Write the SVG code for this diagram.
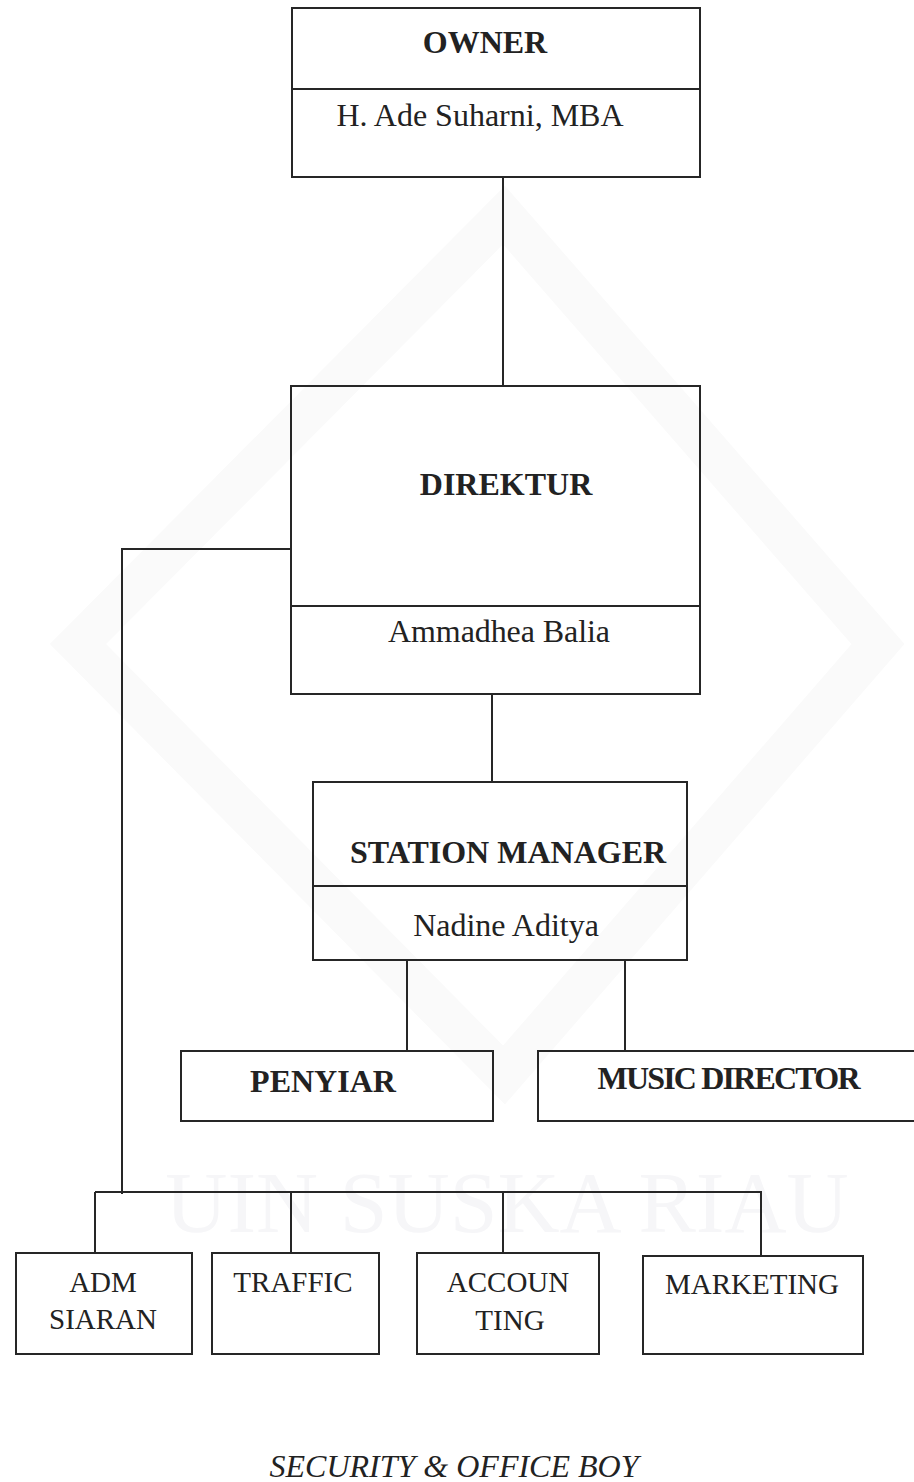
<svg xmlns="http://www.w3.org/2000/svg" width="914" height="1482" viewBox="0 0 914 1482">
<style>
.box{fill:none;stroke:#262626;stroke-width:2}
.ln{fill:none;stroke:#262626;stroke-width:2}
text{font-family:"Liberation Serif","Times New Roman",serif;fill:#222;text-anchor:middle}
.b{font-weight:bold;font-size:32px}
.r{font-size:32px}
.s{font-size:29px}
.wm{fill:none;stroke:#fafafa;stroke-width:40}
</style>
<rect x="0" y="0" width="914" height="1482" fill="#ffffff"/>
<g id="watermark">
<polygon class="wm" points="504,215 78,644 504,1075 878,644"/>
<text x="507" y="1232" font-size="86" style="fill:#f6f6f8">UIN SUSKA RIAU</text>
</g>
<g id="connectors">
<line class="ln" x1="503" y1="177" x2="503" y2="386"/>
<polyline class="ln" points="291,549 122,549 122,1194"/>
<line class="ln" x1="492" y1="694" x2="492" y2="782"/>
<line class="ln" x1="407" y1="960" x2="407" y2="1051"/>
<line class="ln" x1="625" y1="960" x2="625" y2="1051"/>
<line class="ln" x1="95" y1="1192" x2="762" y2="1192"/>
<line class="ln" x1="95" y1="1192" x2="95" y2="1253"/>
<line class="ln" x1="291" y1="1192" x2="291" y2="1253"/>
<line class="ln" x1="503" y1="1192" x2="503" y2="1253"/>
<line class="ln" x1="761" y1="1192" x2="761" y2="1256"/>
</g>
<g id="owner">
<rect class="box" x="292" y="8" width="408" height="169"/>
<line class="ln" x1="292" y1="89" x2="700" y2="89"/>
<text class="b" x="485" y="53">OWNER</text>
<text class="r" x="480" y="126">H. Ade Suharni, MBA</text>
</g>
<g id="direktur">
<rect class="box" x="291" y="386" width="409" height="308"/>
<line class="ln" x1="291" y1="606" x2="700" y2="606"/>
<text class="b" x="506" y="495">DIREKTUR</text>
<text class="r" x="499" y="642" textLength="222">Ammadhea Balia</text>
</g>
<g id="station-manager">
<rect class="box" x="313" y="782" width="374" height="178"/>
<line class="ln" x1="313" y1="886" x2="687" y2="886"/>
<text class="b" x="508" y="863">STATION MANAGER</text>
<text class="r" x="506" y="936">Nadine Aditya</text>
</g>
<g id="penyiar">
<rect class="box" x="181" y="1051" width="312" height="70"/>
<text class="b" x="323" y="1092">PENYIAR</text>
</g>
<g id="music-director">
<rect class="box" x="538" y="1051" width="390" height="70"/>
<text class="b" x="729" y="1089" textLength="263">MUSIC DIRECTOR</text>
</g>
<g id="adm-siaran">
<rect class="box" x="16" y="1253" width="176" height="101"/>
<text class="s" x="103" y="1292">ADM</text>
<text class="s" x="103" y="1329">SIARAN</text>
</g>
<g id="traffic">
<rect class="box" x="212" y="1253" width="167" height="101"/>
<text class="s" x="293" y="1292">TRAFFIC</text>
</g>
<g id="accounting">
<rect class="box" x="417" y="1253" width="182" height="101"/>
<text class="s" x="508" y="1292">ACCOUN</text>
<text class="s" x="510" y="1330">TING</text>
</g>
<g id="marketing">
<rect class="box" x="643" y="1256" width="220" height="98"/>
<text class="s" x="752" y="1294">MARKETING</text>
</g>
<g id="security">
<text class="r" x="454" y="1477" font-style="italic">SECURITY &amp; OFFICE BOY</text>
</g>
</svg>
